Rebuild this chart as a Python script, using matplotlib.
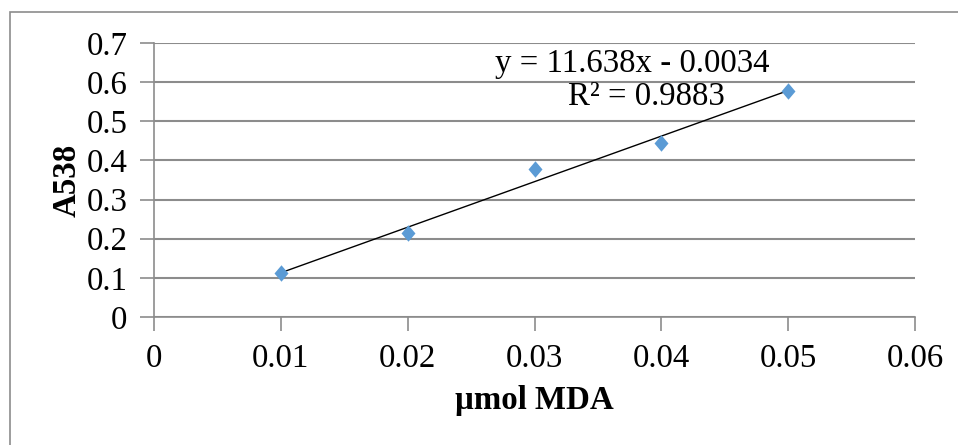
import numpy as np
import matplotlib
matplotlib.use("Agg")
import matplotlib.pyplot as plt
from matplotlib.patches import Rectangle

# Datos de la curva de calibración (MDA)
mda = [0.01, 0.02, 0.03, 0.04, 0.05]
a538 = [0.113, 0.214, 0.379, 0.445, 0.578]
pendiente = 11.638
intercepto = -0.0034
r2 = 0.9883
xticks = [0, 0.01, 0.02, 0.03, 0.04, 0.05, 0.06]
xticklabels = ["0", "0.01", "0.02", "0.03", "0.04", "0.05", "0.06"]
yticks = [0, 0.1, 0.2, 0.3, 0.4, 0.5, 0.6, 0.7]
yticklabels = ["0", "0.1", "0.2", "0.3", "0.4", "0.5", "0.6", "0.7"]

plt.rcParams['font.family'] = ['Liberation Serif', 'DejaVu Serif']
gris = '#8c8c8c'
fs = 23.7

fig = plt.figure(figsize=(9.58, 4.45), dpi=100)
ax = fig.add_axes([154/958, 1 - 317/445, (915-154)/958, (317-43)/445])

# borde del área del gráfico
fig.patches.append(Rectangle((10/958, -0.1), 1.1, 1 - 12/445 + 0.1,
                             transform=fig.transFigure, fill=False,
                             edgecolor=gris, linewidth=1.2))

# marcador rombo (un poco más alto que ancho, como en Excel)
rombo = [(0, 1), (0.85, 0), (0, -1), (-0.85, 0), (0, 1)]

# línea de tendencia
xs = np.array([mda[0], mda[-1]])
ax.plot(xs, pendiente * xs + intercepto, color='black', linewidth=1, zorder=3)
ax.scatter(mda, a538, marker=rombo, s=140, color='#5b9bd5', zorder=4, linewidths=0)

ax.set_xlim(0, 0.06)
ax.set_ylim(0, 0.7)
ax.set_xticks(xticks)
ax.set_xticklabels(xticklabels)
ax.set_yticks(yticks)
ax.set_yticklabels(yticklabels)
ax.tick_params(axis='both', labelsize=fs, length=10, width=1.2, color=gris)
ax.tick_params(axis='x', pad=9)
ax.tick_params(axis='y', pad=9)
ax.yaxis.grid(True, color=gris, linewidth=1.5)
ax.set_axisbelow(True)
for lado in ['top', 'right']:
    ax.spines[lado].set_visible(False)
for lado in ['left', 'bottom']:
    ax.spines[lado].set_color(gris)
    ax.spines[lado].set_linewidth(1.2)

ax.set_xlabel("µmol MDA", fontsize=fs, fontweight='bold', labelpad=8)
ax.set_ylabel("A538", fontsize=fs, fontweight='bold', labelpad=3)

ax.text(0.0377, 0.646, "y = 11.638x - 0.0034", fontsize=fs, ha='center', va='center')
ax.text(0.0388, 0.562, "R² = 0.9883", fontsize=fs, ha='center', va='center')

plt.savefig("out.png", dpi=100)
